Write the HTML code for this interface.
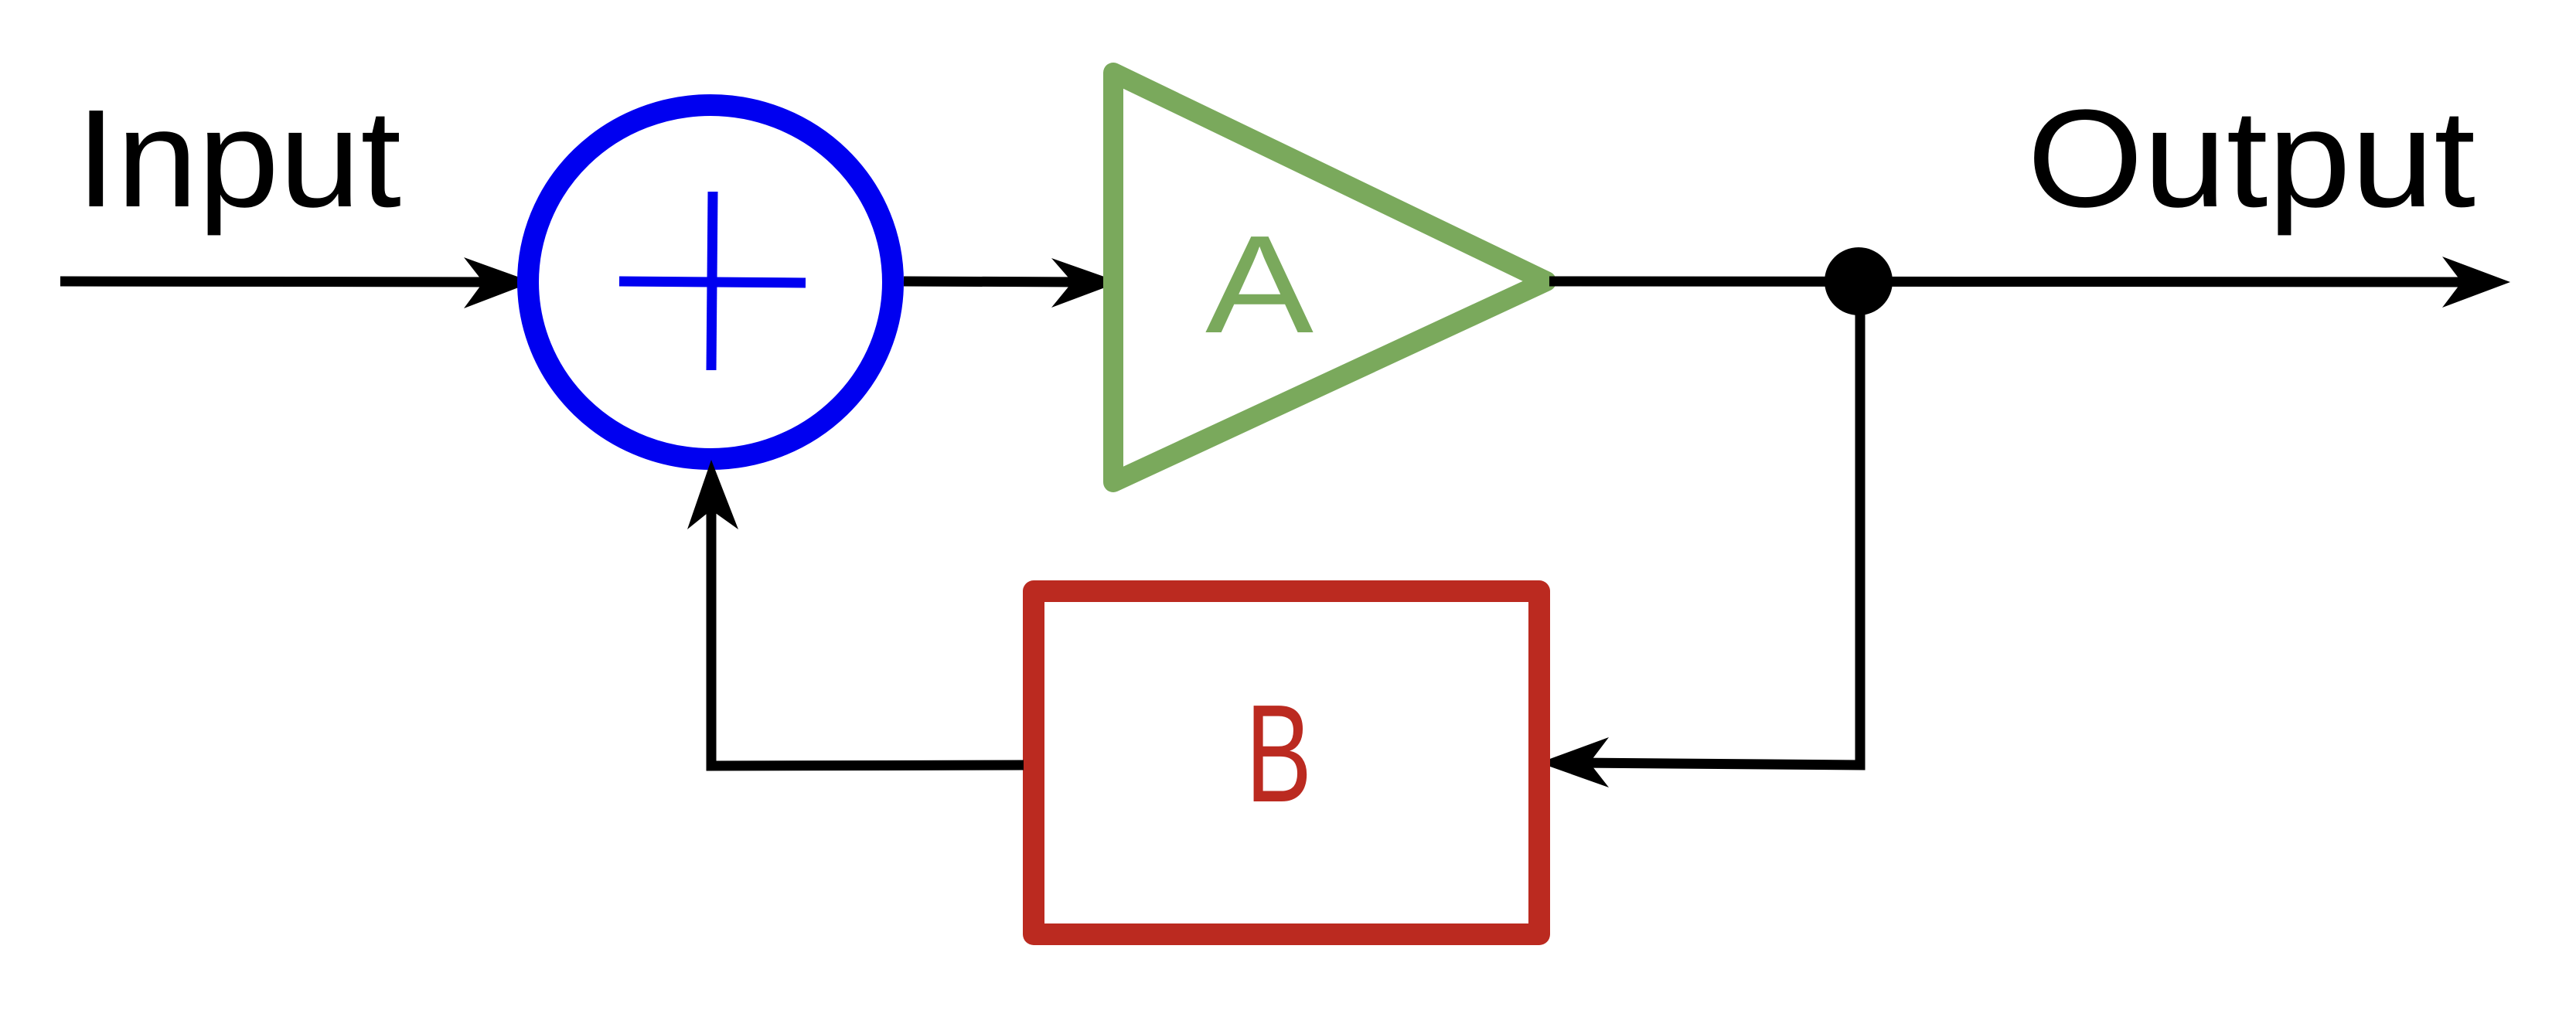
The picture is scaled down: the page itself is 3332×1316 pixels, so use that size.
<!DOCTYPE html>
<html><head><meta charset="utf-8"><style>html,body{margin:0;padding:0;background:#fff}svg{display:block}</style></head>
<body>
<svg width="3332" height="1316" viewBox="0 0 3332 1316" xmlns="http://www.w3.org/2000/svg">
<rect width="3332" height="1316" fill="#fff"/>
<g font-family="Liberation Sans, sans-serif" font-size="180">
<text x="98" y="267" textLength="421" lengthAdjust="spacingAndGlyphs" fill="#000">Input</text>
<text x="2622" y="267" textLength="580" lengthAdjust="spacingAndGlyphs" fill="#000">Output</text>
<text x="1559" y="430" textLength="140" lengthAdjust="spacingAndGlyphs" fill="#7aa95c">A</text>
<text x="1611" y="1037" textLength="86" lengthAdjust="spacingAndGlyphs" fill="#bb2a20">B</text>
</g>
<line x1="78" y1="364" x2="640" y2="365" stroke="#000" stroke-width="13"/>
<polygon points="689,365 600,333 625,365 600,399" fill="#000"/>
<ellipse cx="919" cy="365" rx="236" ry="229" fill="none" stroke="#0000f0" stroke-width="28"/>
<line x1="801" y1="364" x2="1042" y2="366" stroke="#0000f0" stroke-width="13"/>
<line x1="922" y1="248" x2="920" y2="479" stroke="#0000f0" stroke-width="13"/>
<line x1="1169" y1="364" x2="1400" y2="365" stroke="#000" stroke-width="13"/>
<polygon points="1448,365 1360,334 1387,365 1360,398" fill="#000"/>
<polygon points="1440,94 1440,624 2000,364" fill="none" stroke="#7aa95c" stroke-width="26" stroke-linejoin="round"/>
<line x1="2004" y1="364" x2="3200" y2="365" stroke="#000" stroke-width="13"/>
<polygon points="3247,365 3159,332 3184,365 3159,398" fill="#000"/>
<circle cx="2404" cy="364" r="44" fill="#000"/>
<polyline points="2406,364 2406,990 2040,987" fill="none" stroke="#000" stroke-width="13"/>
<polygon points="1991,987 2081,954 2056,987 2081,1019" fill="#000"/>
<rect x="1337" y="765" width="654" height="444" fill="none" stroke="#bb2a20" stroke-width="28" stroke-linejoin="round"/>
<polyline points="1324,990 920,991 920,640" fill="none" stroke="#000" stroke-width="13"/>
<polygon points="920,595 889,685 920,660 955,685" fill="#000"/>
</svg>
</body></html>
